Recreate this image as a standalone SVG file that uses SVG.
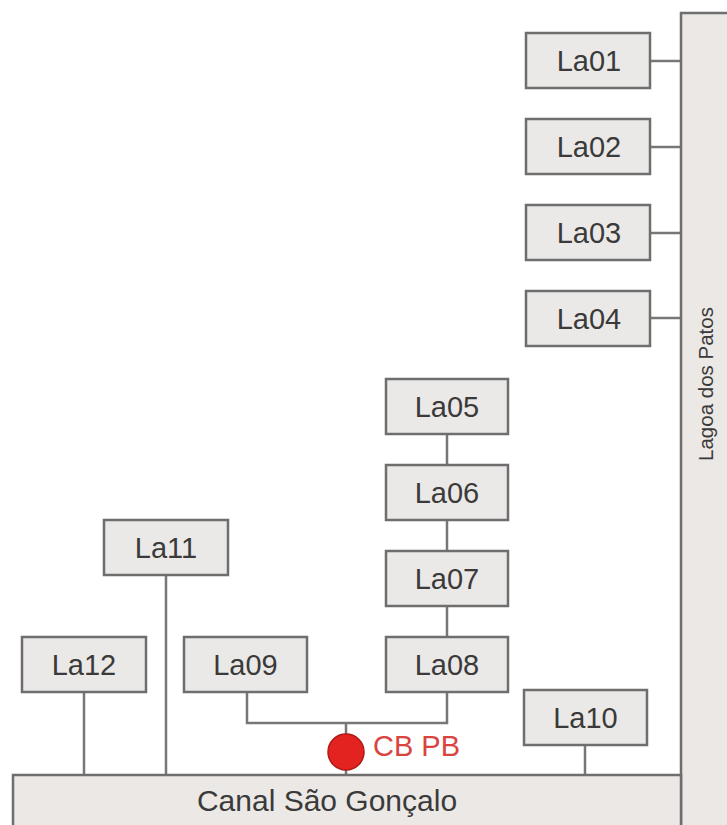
<svg xmlns="http://www.w3.org/2000/svg" width="727" height="825" viewBox="0 0 727 825">
<style>
.box{fill:#ebe9e7;stroke:#6e6e6e;stroke-width:2.5}
.lbl{font-family:"Liberation Sans",Arial,sans-serif;font-size:29px;fill:#3a3a3a;text-anchor:middle}
.con{stroke:#777;stroke-width:2.5;fill:none}
.body{fill:#ebe8e5;stroke:#6e6e6e;stroke-width:2.5}
</style>
<rect width="727" height="825" fill="#fff"/>
<g id="connectors">
<path class="con" d="M650 61H681M650 147H681M650 233H681M650 318H681"/>
<path class="con" d="M447 434V465M447 520V551M447 606V637"/>
<path class="con" d="M247 692V723H447V692M346 723V775"/>
<path class="con" d="M84 692V775M166 575V775M585 745V775"/>
</g>
<g id="lagoa"><rect class="body" x="681" y="13" width="60" height="830"/>
<text class="lbl" style="font-size:20.5px" transform="translate(713 384) rotate(-90)">Lagoa dos Patos</text></g>
<g id="canal"><rect class="body" x="13" y="775" width="668" height="70"/>
<text class="lbl" style="font-size:30px" x="327" y="811">Canal São Gonçalo</text></g>
<g id="La01"><rect class="box" x="526" y="33" width="124" height="55"/><text class="lbl" x="589" y="71">La01</text></g>
<g id="La02"><rect class="box" x="526" y="119" width="124" height="55"/><text class="lbl" x="589" y="157">La02</text></g>
<g id="La03"><rect class="box" x="526" y="205" width="124" height="55"/><text class="lbl" x="589" y="243">La03</text></g>
<g id="La04"><rect class="box" x="526" y="291" width="124" height="55"/><text class="lbl" x="589" y="329">La04</text></g>
<g id="La05"><rect class="box" x="386" y="379" width="122" height="55"/><text class="lbl" x="447" y="417">La05</text></g>
<g id="La06"><rect class="box" x="386" y="465" width="122" height="55"/><text class="lbl" x="447" y="503">La06</text></g>
<g id="La07"><rect class="box" x="386" y="551" width="122" height="55"/><text class="lbl" x="447" y="589">La07</text></g>
<g id="La08"><rect class="box" x="386" y="637" width="122" height="55"/><text class="lbl" x="447" y="675">La08</text></g>
<g id="La09"><rect class="box" x="184" y="637" width="123" height="55"/><text class="lbl" x="245.5" y="675">La09</text></g>
<g id="La10"><rect class="box" x="524" y="690" width="123" height="55"/><text class="lbl" x="585.5" y="728">La10</text></g>
<g id="La11"><rect class="box" x="104" y="520" width="124" height="55"/><text class="lbl" x="166" y="558">La11</text></g>
<g id="La12"><rect class="box" x="22" y="637" width="124" height="55"/><text class="lbl" x="84" y="675">La12</text></g>
<g id="CBPB"><circle cx="346" cy="752" r="18" fill="#e3231f" stroke="#b01a16" stroke-width="1.5"/>
<text x="373" y="756" style="font-family:'Liberation Sans',Arial,sans-serif;font-size:29px;fill:#d9443f">CB PB</text></g>
</svg>
